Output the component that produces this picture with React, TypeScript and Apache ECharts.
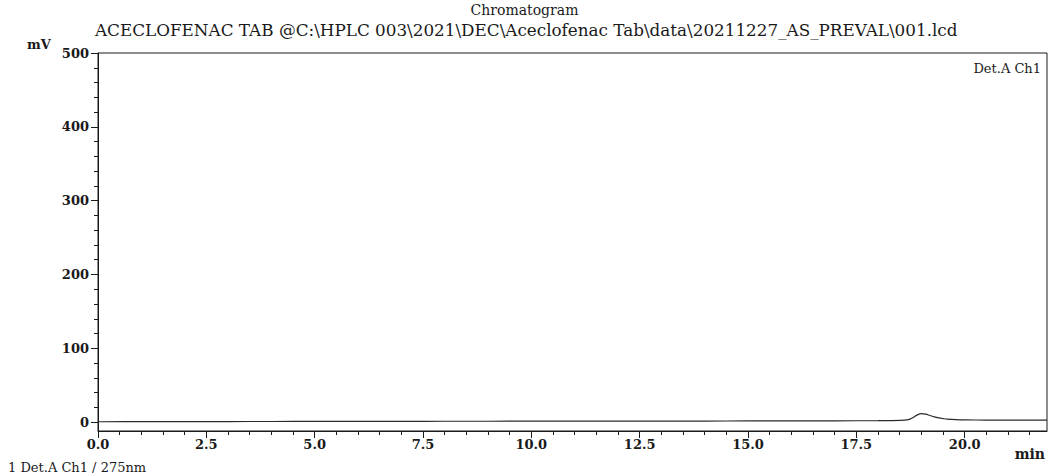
import React, { useEffect, useRef } from "react";
import * as echarts from "echarts";

const timeMin: number[] = [0, 1, 2, 3, 4, 5, 6, 7, 8, 9, 10, 11, 12, 13, 14, 15, 16, 17, 18, 18.5, 18.7, 18.8, 18.9, 19.0, 19.1, 19.2, 19.3, 19.4, 19.5, 19.6, 19.8, 20.0, 20.5, 21, 21.9];
const signalMv: number[] = [0.5, 0.6, 0.7, 0.8, 0.9, 1.0, 1.0, 1.1, 1.2, 1.2, 1.3, 1.3, 1.4, 1.5, 1.5, 1.6, 1.7, 1.8, 2.0, 2.4, 3.5, 6.0, 9.5, 11.5, 10.8, 9.0, 7.2, 5.8, 4.8, 4.0, 3.3, 3.0, 2.8, 2.7, 2.7];
const xMajorTicks: number[] = [0, 2.5, 5, 7.5, 10, 12.5, 15, 17.5, 20];
const xMinorTicks: number[] = [0.5, 1, 1.5, 2, 3, 3.5, 4, 4.5, 5.5, 6, 6.5, 7, 8, 8.5, 9, 9.5, 10.5, 11, 11.5, 12, 13, 13.5, 14, 14.5, 15.5, 16, 16.5, 17, 18, 18.5, 19, 19.5, 20.5, 21, 21.5];
const yMajorTicks: number[] = [0, 100, 200, 300, 400, 500];
const yMinorTicks: number[] = [20, 40, 60, 80, 120, 140, 160, 180, 220, 240, 260, 280, 320, 340, 360, 380, 420, 440, 460, 480];

const titleText = "Chromatogram";
const subtitleText = "ACECLOFENAC TAB @C:\\HPLC 003\\2021\\DEC\\Aceclofenac Tab\\data\\20211227_AS_PREVAL\\001.lcd";
const yUnit = "mV";
const xUnit = "min";
const channelLabel = "Det.A Ch1";
const footerText = "1 Det.A Ch1 / 275nm";

const FONT = "'DejaVu Serif', 'Liberation Serif', serif";
const INK = "#1a1a1a";

export default function App() {
  const ref = useRef<HTMLDivElement>(null);
  useEffect(() => {
    if (!ref.current) return;
    const chart = echarts.init(ref.current, undefined, { renderer: "svg" });
    const xMin = 0, xMax = 21.9, yMin = -12, yMax = 500;
    const labelStyle = { fontFamily: FONT, fontSize: 13, fontWeight: "bold" as const, color: INK };
    chart.setOption({
      animation: false,
      backgroundColor: "#ffffff",
      grid: { left: 98, right: 2, top: 53, bottom: 44, show: true, borderColor: INK, borderWidth: 1, backgroundColor: "transparent" },
      xAxis: [
        {
          type: "value", min: xMin, max: xMax, position: "bottom",
          axisLine: { show: true, onZero: false, lineStyle: { color: INK, width: 1 } },
          axisTick: { show: true, inside: false, length: 7, customValues: xMajorTicks, lineStyle: { color: INK } },
          axisLabel: { show: true, customValues: xMajorTicks, margin: 7, formatter: (v: number) => v.toFixed(1), ...labelStyle },
          splitLine: { show: false },
        },
        {
          type: "value", min: xMin, max: xMax, position: "bottom",
          axisLine: { show: false, onZero: false },
          axisTick: { show: true, inside: false, length: 4, customValues: xMinorTicks, lineStyle: { color: INK } },
          axisLabel: { show: false },
          splitLine: { show: false },
        },
      ],
      yAxis: [
        {
          type: "value", min: yMin, max: yMax, position: "left",
          axisLine: { show: true, onZero: false, lineStyle: { color: INK, width: 1 } },
          axisTick: { show: true, inside: false, length: 7, customValues: yMajorTicks, lineStyle: { color: INK } },
          axisLabel: { show: true, customValues: yMajorTicks, margin: 9, ...labelStyle },
          splitLine: { show: false },
        },
        {
          type: "value", min: yMin, max: yMax, position: "left",
          axisLine: { show: false, onZero: false },
          axisTick: { show: true, inside: false, length: 4, customValues: yMinorTicks, lineStyle: { color: INK } },
          axisLabel: { show: false },
          splitLine: { show: false },
        },
      ],
      series: [
        {
          type: "line",
          xAxisIndex: 0, yAxisIndex: 0,
          data: timeMin.map((t, i) => [t, signalMv[i]]),
          showSymbol: false,
          smooth: 0.4,
          lineStyle: { color: "#2a2a2a", width: 1.2 },
          z: 5,
        },
      ],
      graphic: [
        { type: "text", left: "center", top: 3, style: { text: titleText, font: `14px ${FONT}`, fill: INK } },
        { type: "text", left: 95, top: 21, style: { text: subtitleText, font: `16.8px ${FONT}`, fill: INK } },
        { type: "text", left: 27, top: 38, style: { text: yUnit, font: `bold 13px ${FONT}`, fill: INK } },
        { type: "text", right: 8, top: 62, style: { text: channelLabel, font: `13px ${FONT}`, fill: INK } },
        { type: "text", right: 4, top: 447, style: { text: xUnit, font: `bold 14px ${FONT}`, fill: INK } },
        { type: "text", left: 8, top: 461, style: { text: footerText, font: `13px ${FONT}`, fill: INK } },
      ],
    });
    return () => chart.dispose();
  }, []);
  return <div ref={ref} style={{ width: 1049, height: 475, position: "absolute", left: 0, top: 0 }} />;
}
